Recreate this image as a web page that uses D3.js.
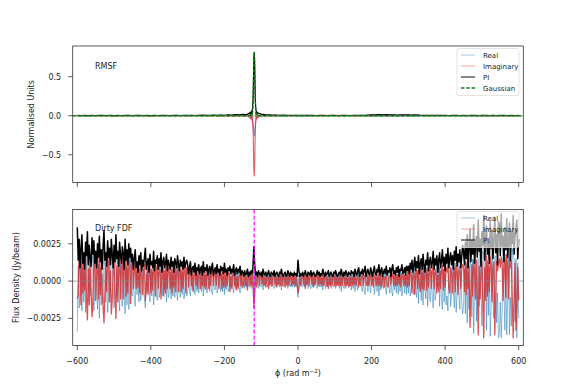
<!DOCTYPE html>
<html><head><meta charset="utf-8">
<script src="https://cdn.jsdelivr.net/npm/d3@7"></script>
<style>body{margin:0;background:#fff}svg{display:block}text{font-family:"DejaVu Sans",sans-serif}</style>
</head><body>
<script>
// ---------- DATA ----------
// RMSF (top panel), phi grid: step 10 away from the peak, step 1 around the peak
const rmsfPhi = d3.range(-600, -130, 10).concat(d3.range(-130, -109, 1)).concat(d3.range(-100, 601, 10));
const rmsfPI = [
 0.004,0.003,0.005,0.002,0.004,0.003,0.005,0.004,0.003,0.005,
 0.002,0.004,0.003,0.005,0.004,0.003,0.004,0.005,0.003,0.004,
 0.002,0.005,0.003,0.004,0.005,0.003,0.004,0.006,0.003,0.005,
 0.004,0.006,0.003,0.005,0.007,0.004,0.006,0.008,0.005,0.009,
 0.006,0.011,0.008,0.014,0.010,0.018,0.013,
 0.040,0.022,0.050,0.030,0.060,0.045,0.085,0.130,0.240,0.470,0.730,0.812,0.700,0.430,0.210,0.110,0.065,0.040,0.050,0.028,0.038,
 0.020,0.014,0.011,0.008,0.009,0.006,0.007,0.005,0.006,0.004,
 0.005,0.004,0.006,0.004,0.005,0.003,0.005,0.004,0.003,0.005,
 0.004,0.003,0.005,0.004,0.003,0.005,0.004,0.006,0.005,0.008,
 0.012,0.010,0.014,0.011,0.013,0.010,0.012,0.009,0.011,0.010,
 0.012,0.008,0.010,0.007,0.006,0.005,0.006,0.004,0.005,0.004,
 0.005,0.003,0.004,0.005,0.003,0.004,0.003,0.005,0.004,0.003,
 0.004,0.005,0.003,0.004,0.003,0.005,0.004,0.003,0.004,0.003,
 0.004];
const rmsfReal = [
 -0.003,0.002,-0.004,0.001,-0.003,0.002,-0.004,0.003,-0.002,0.004,
 -0.001,0.003,-0.002,0.004,-0.003,0.002,-0.003,0.004,-0.002,0.003,
 -0.001,0.004,-0.002,0.003,-0.004,0.002,-0.003,0.005,-0.002,0.004,
 -0.003,0.005,-0.002,0.004,-0.006,0.003,-0.005,0.007,-0.004,0.008,
 -0.005,0.009,-0.007,0.012,-0.008,0.015,-0.011,
 0.025,-0.016,0.030,-0.022,0.035,-0.034,0.048,-0.070,-0.095,-0.160,-0.240,-0.260,-0.250,-0.150,-0.090,-0.060,0.040,-0.027,0.030,-0.019,0.023,
 -0.015,0.010,-0.008,0.006,-0.007,0.004,-0.005,0.004,-0.004,0.003,
 -0.004,0.003,-0.005,0.003,-0.004,0.002,-0.004,0.003,-0.002,0.004,
 -0.003,0.002,-0.004,0.003,-0.002,0.004,-0.003,0.005,-0.004,0.006,
 -0.009,0.008,-0.011,0.008,-0.010,0.007,-0.009,0.007,-0.008,0.008,
 -0.009,0.006,-0.008,0.005,-0.004,0.004,-0.005,0.003,-0.004,0.003,
 -0.004,0.002,-0.003,0.004,-0.002,0.003,-0.002,0.004,-0.003,0.002,
 -0.003,0.004,-0.002,0.003,-0.002,0.004,-0.003,0.002,-0.003,0.002,
 -0.003];
const rmsfImag = [
 0.002,-0.002,0.003,-0.001,0.002,-0.002,0.003,-0.002,0.002,-0.003,
 0.001,-0.002,0.002,-0.003,0.002,-0.002,0.002,-0.003,0.002,-0.002,
 0.001,-0.003,0.002,-0.002,0.003,-0.002,0.002,-0.003,0.002,-0.003,
 0.002,-0.003,0.002,-0.003,0.004,-0.002,0.003,-0.004,0.003,-0.005,
 0.003,-0.007,0.004,-0.008,0.006,-0.010,0.007,
 -0.030,0.015,-0.040,0.020,-0.050,0.030,-0.070,-0.110,-0.220,-0.440,-0.690,-0.770,-0.650,-0.400,-0.190,-0.090,-0.050,0.030,-0.040,0.020,-0.030,
 0.012,-0.009,0.007,-0.005,0.006,-0.004,0.004,-0.003,0.004,-0.002,
 0.003,-0.002,0.004,-0.003,0.003,-0.002,0.003,-0.002,0.002,-0.003,
 0.002,-0.002,0.003,-0.002,0.002,-0.003,0.002,-0.004,0.003,-0.005,
 0.008,-0.006,0.009,-0.007,0.008,-0.006,0.008,-0.006,0.007,-0.006,
 0.008,-0.005,0.006,-0.004,0.004,-0.003,0.004,-0.003,0.003,-0.002,
 0.003,-0.002,0.003,-0.003,0.002,-0.003,0.002,-0.003,0.002,-0.002,
 0.002,-0.003,0.002,-0.002,0.002,-0.003,0.002,-0.002,0.002,-0.002,
 0.002];
// Gaussian fit to the RMSF main lobe
const gaussPhi = [-612, -126, -125, -124, -123, -122, -121, -120, -119, -118, -117, -116, -115, -114, -113, -112, 612];
const gaussVal = [0, 0, 0.002, 0.012, 0.06, 0.2, 0.45, 0.7, 0.812, 0.7, 0.45, 0.2, 0.06, 0.012, 0.002, 0, 0];

// Dirty FDF (bottom panel), phi step 2.5, values in units of 1e-4 Jy/beam
const fdfPhi = d3.range(-600, 600.001, 2.5);
const FDF_UNIT = 1e-4;
const fdfPI = [
 36,14,28,9,22,31,12,19,8,26,17,33,11,24,15,10,29,18,27,12,20,9,25,16,30,13,21,8,23,34,
 14,19,10,27,16,22,11,28,18,9,24,13,31,15,20,10,26,17,12,23,19,8,28,14,21,11,25,16,22,13,
 18,8,15,21,9,13,6,17,11,19,7,14,10,16,22,8,12,15,6,18,11,13,9,20,7,14,12,17,8,15,
 10,19,6,13,16,9,12,18,7,14,11,8,16,10,13,6,15,12,9,17,11,7,14,10,13,8,16,9,12,14,
 11,5,9,13,4,8,10,6,12,4,9,7,11,5,8,10,4,13,6,9,7,11,4,8,10,5,9,12,4,7,
 9,5,11,6,8,4,10,7,9,5,12,6,8,4,9,7,10,5,8,6,11,4,7,9,5,8,6,10,4,7,
 6,3,7,4,5,8,3,6,4,7,5,9,23,10,4,6,3,7,5,4,6,3,8,5,4,6,3,5,7,4,
 3,6,5,4,7,3,5,6,4,3,6,5,8,4,3,5,6,3,4,7,5,3,6,4,5,3,6,4,5,3,
 14,7,3,5,4,6,3,5,7,4,3,6,5,4,7,3,5,6,4,3,5,7,4,6,3,5,4,8,5,3,
 6,4,5,7,3,5,6,4,3,6,5,7,4,3,5,6,4,8,5,3,6,4,7,5,3,6,5,4,7,5,
 6,3,8,5,4,7,9,3,6,5,8,4,7,10,3,6,8,5,4,9,6,3,7,10,5,4,8,6,11,4,
 7,9,3,6,8,5,10,4,7,6,9,3,8,11,5,7,4,9,6,10,3,8,7,11,5,6,9,4,10,7,
 10,5,12,8,14,6,11,16,7,13,9,17,5,12,15,8,18,10,6,14,11,19,7,13,16,9,12,20,8,15,
 11,17,6,14,19,9,13,21,10,16,7,18,12,22,9,15,19,11,17,8,20,14,23,10,18,13,21,9,16,24,
 20,11,26,15,31,9,22,35,13,27,18,38,12,24,30,16,41,20,28,10,33,24,44,14,29,37,18,26,12,40,
 22,34,15,28,43,19,31,11,40,38,17,45,23,30,13,36,21,42,16,27,39,14,33,25,44,18,30,36,41,15,28];
const fdfReal = [
 -34,10,-18,-6,15,-20,8,-14,5,-21,12,19,-7,18,-10,6,17,12,-20,-8,15,-6,-19,11,-25,9,-16,5,-15,19,
 10,-14,7,-21,-11,17,-8,18,13,-6,-18,9,18,-10,14,-7,-20,12,-9,-17,14,-5,-22,10,-16,8,-19,-12,17,-9,
 -10,6,-12,-17,7,-9,4,-14,8,-13,-5,11,-7,-12,-18,5,-8,12,-4,-14,8,-10,6,-16,-5,10,-9,-13,6,-11,
 -7,15,-4,-10,12,-6,9,-14,5,-11,-8,6,-12,7,-10,4,-11,9,-6,-13,8,-5,-11,7,-9,6,-12,-6,9,-10,
 -8,3,-6,-10,3,-6,7,-4,-9,3,-7,5,-8,-3,6,-7,3,-10,4,-6,5,-8,-3,6,-7,4,-7,-9,3,-5,
 -6,4,-8,-4,6,-3,-7,5,-7,3,-9,4,-6,3,-7,-5,7,-4,6,-4,-8,3,-5,7,-4,6,-4,-8,3,-5,
 -4,2,-5,3,-4,5,-2,-4,3,-5,4,-6,-14,6,-3,4,-2,-5,4,-3,-4,2,-6,4,-3,4,-2,-4,5,-3,
 2,-4,4,-3,-5,2,-4,4,-3,2,-4,4,-6,3,-2,-4,4,-2,3,-5,4,-2,-4,3,-4,2,-4,3,-4,2,
 -11,4,-2,4,-3,-4,2,-4,5,-3,2,-5,4,-3,-5,2,-4,5,-3,2,-4,-5,3,-4,2,-4,3,-6,4,-2,
 -5,3,-4,5,-2,4,-5,3,-2,-4,4,-5,3,-2,4,-5,3,-7,4,-2,-5,3,-5,4,-2,5,-4,3,-6,4,
 -5,2,-7,4,-3,-6,8,-2,5,-4,-7,3,-6,-9,2,5,-7,4,-3,-8,5,-2,6,-9,-4,3,-7,5,-10,3,
 -6,8,-2,-5,7,-4,-9,3,6,-5,-8,2,-7,-10,4,-6,3,-8,5,-9,2,-7,6,-10,-4,5,-8,3,-9,6,
 -8,4,-10,-6,11,-4,-9,13,-5,-11,7,-15,3,10,-13,6,-16,8,-4,-12,9,-17,5,-11,-14,7,-10,-18,6,-13,
 -9,15,-4,12,-17,7,-11,-19,8,-14,5,-16,-10,-20,7,13,-17,-9,15,-6,-18,12,-21,-8,16,-11,-19,7,-14,-22,
 -17,8,-22,12,-28,6,-19,15,10,-24,15,-35,-9,21,-27,13,15,-17,25,-8,-30,20,18,-11,26,-33,14,-23,9,-37,
 -19,31,-12,-25,17,16,-28,-8,-38,-35,-14,-38,-20,27,-10,-33,18,-36,-13,24,-36,-11,-30,22,17,15,-27,15,-38,12,-25];
const fdfImag = [
 -12,-9,21,7,-16,23,-8,13,-6,16,-12,-26,8,-16,11,-7,-24,-13,18,8,-13,6,16,-12,16,-9,13,-6,-17,-28,
 -9,12,-7,17,12,-14,7,-22,-12,6,16,-9,-25,10,-14,7,17,-12,8,16,-12,6,17,-10,14,-8,17,11,-15,10,
 15,-5,8,12,-5,9,-4,10,-8,14,5,-9,7,11,-13,-5,9,-9,4,11,-8,8,-6,12,5,-10,7,11,-5,10,
 7,-12,4,8,-10,7,-8,11,-5,9,7,-5,10,-8,8,-4,10,-7,6,10,-7,5,8,-7,9,-5,11,6,-8,9,
 7,-4,6,8,-3,5,-7,4,6,-3,6,-5,7,4,-5,7,-3,8,-4,6,-5,7,3,-5,7,-3,6,8,-3,5,
 6,-3,7,4,-5,3,7,-5,6,-4,8,-4,5,-3,6,5,-7,3,-5,4,7,-3,5,-6,3,-5,4,6,-3,5,
 -4,-2,5,-3,3,-6,2,4,-3,5,-3,7,-18,-8,3,-4,2,5,-3,3,4,-2,5,-3,3,-4,2,3,-5,3,
 -2,4,-3,3,5,-2,3,-4,3,-2,4,-3,6,-3,2,3,-4,2,-3,5,-3,2,4,-3,3,-2,4,-3,3,-2,
 -8,-5,2,-3,3,4,-2,3,-5,3,-2,4,-3,3,5,-2,3,-4,3,-2,3,5,-3,4,-2,3,-3,4,-3,2,
 4,-3,3,-5,2,-3,4,-3,2,4,-3,5,-3,2,-3,4,-3,5,-3,2,4,-3,5,-3,2,-4,3,-3,4,-3,
 3,-2,4,-3,2,4,-4,2,-3,3,4,-3,3,4,-2,-3,4,-3,3,4,-3,2,-4,4,3,-3,4,-3,5,-3,
 4,-4,2,3,-4,3,4,-3,-4,3,4,-2,4,5,-3,4,-3,4,-3,4,-2,4,-4,5,3,-3,4,-3,4,-4,
 6,-3,7,5,-8,4,6,-9,5,7,-5,8,-3,-7,8,-5,9,-6,4,8,-6,9,-4,7,9,-5,7,10,-5,8,
 6,-8,4,-7,9,-5,7,10,-6,8,-4,9,6,11,-5,-8,9,6,-8,5,9,-7,10,6,-9,7,10,-5,8,11,
 10,-7,13,-9,13,-5,10,-31,-8,11,-10,14,7,-12,14,-8,-36,10,-12,5,13,-14,-38,9,-13,17,-10,12,-7,16,
 11,-14,9,13,-36,-10,13,7,12,15,9,16,12,-13,8,15,-11,18,9,-12,16,9,14,-13,-38,-10,12,-33,-17,9,-13];
const peakPhi = -119;

const xTicks = [-600, -400, -200, 0, 200, 400, 600];
const topYTicks = [-0.5, 0, 0.5];
const botYTicks = [-0.0025, 0, 0.0025];

// ---------- LAYOUT ----------
const W = 581, H = 388;
const L = 72.7, R = 523.3;
const topP = {t: 46, b: 182.5};
const botP = {t: 209.5, b: 345.5};
const C = {real: "#1f77b4", imag: "#d62728", pi: "#000", gauss: "#008000", zero: "#888", spine: "#333", magenta: "#ff00ff"};

const svg = d3.select("body").append("svg").attr("width", W).attr("height", H);
const x = d3.scaleLinear().domain([-612.5, 612.5]).range([L, R]);
const yTop = d3.scaleLinear().domain([-0.855, 0.893]).range([topP.b, topP.t]);
const yBot = d3.scaleLinear().domain([-0.00432, 0.0048]).range([botP.b, botP.t]);

function clip(id, p) {
  svg.append("clipPath").attr("id", id).append("rect")
    .attr("x", L).attr("y", p.t).attr("width", R - L).attr("height", p.b - p.t);
}
clip("cTop", topP); clip("cBot", botP);

function series(g, phi, vals, y, color, opts) {
  const data = phi.map((p, i) => [p, vals[i]]).filter(d => d[1] != null);
  g.append("path").datum(data)
    .attr("fill", "none").attr("stroke", color)
    .attr("stroke-width", opts.w || 0.9)
    .attr("stroke-opacity", opts.op == null ? 1 : opts.op)
    .attr("stroke-dasharray", opts.dash || null)
    .attr("stroke-linejoin", "round")
    .attr("d", d3.line().x(d => x(d[0])).y(d => y(d[1])));
}

function legend(items, x0, y0, w, h) {
  const g = svg.append("g");
  g.append("rect").attr("x", x0).attr("y", y0).attr("width", w).attr("height", h)
    .attr("rx", 2).attr("fill", "#fff").attr("fill-opacity", 0.65)
    .attr("stroke", "#ddd").attr("stroke-width", 0.8);
  items.forEach((it, i) => {
    const yy = y0 + 6.5 + i * 11;
    g.append("line").attr("x1", x0 + 4).attr("x2", x0 + 18).attr("y1", yy).attr("y2", yy)
      .attr("stroke", it.c).attr("stroke-width", it.w || 1.2).attr("stroke-opacity", it.op == null ? 1 : it.op)
      .attr("stroke-dasharray", it.dash || null);
    g.append("text").attr("x", x0 + 26).attr("y", yy + 2.5).attr("font-size", 7).attr("fill", "#222").text(it.t);
  });
}

function frame(p, y, ticks, fmt, showX, ylabel, ylx) {
  const g = svg.append("g");
  ticks.forEach(v => {
    g.append("line").attr("x1", L - 4.5).attr("x2", L).attr("y1", y(v)).attr("y2", y(v)).attr("stroke", C.spine).attr("stroke-width", 0.8);
    g.append("text").attr("x", L - 11.5).attr("y", y(v) + 2.9).attr("text-anchor", "end").attr("font-size", 8).attr("fill", "#222").text(fmt(v));
  });
  xTicks.forEach(v => {
    g.append("line").attr("x1", x(v)).attr("x2", x(v)).attr("y1", p.b).attr("y2", p.b + 4.5).attr("stroke", C.spine).attr("stroke-width", 0.8);
    if (showX) g.append("text").attr("x", x(v)).attr("y", p.b + 18.5).attr("text-anchor", "middle").attr("font-size", 8).attr("fill", "#222").text(d3.format("d")(v));
  });
  g.append("rect").attr("x", L).attr("y", p.t).attr("width", R - L).attr("height", p.b - p.t)
    .attr("fill", "none").attr("stroke", C.spine).attr("stroke-width", 0.8);
  g.append("text").attr("transform", `translate(${ylx},${(p.t + p.b) / 2}) rotate(-90)`)
    .attr("text-anchor", "middle").attr("font-size", 8).attr("fill", "#222").text(ylabel);
}

// ---------- TOP PANEL ----------
legend([
  {t: "Real", c: C.real, op: 0.35},
  {t: "Imaginary", c: C.imag, op: 0.35},
  {t: "PI", c: C.pi, op: 0.8},
  {t: "Gaussian", c: C.gauss, dash: "3.5,1.8", w: 1.4}
], 457, 48.5, 62, 47);
const gt = svg.append("g").attr("clip-path", "url(#cTop)");
series(gt, rmsfPhi, rmsfReal, yTop, C.real, {op: 0.6, w: 1.1});
series(gt, rmsfPhi, rmsfImag, yTop, C.imag, {op: 0.75, w: 1.1});
series(gt, rmsfPhi, rmsfPI, yTop, C.pi, {w: 1.2});
gt.append("line").attr("x1", L).attr("x2", R).attr("y1", yTop(0)).attr("y2", yTop(0)).attr("stroke", C.zero).attr("stroke-width", 1).attr("stroke-opacity", 0.7);
series(gt, gaussPhi, gaussVal, yTop, C.gauss, {w: 1.3, dash: "3.5,1.8"});
frame(topP, yTop, topYTicks, d3.format(".1f"), false, "Normalised Units", 34);
svg.append("text").attr("x", 95).attr("y", 69).attr("font-size", 8).attr("fill", "#222").text("RMSF");

// ---------- BOTTOM PANEL ----------
svg.append("text").attr("x", 95).attr("y", 231).attr("font-size", 8).attr("fill", "#222").text("Dirty FDF");
const gb = svg.append("g").attr("clip-path", "url(#cBot)");
const sc = v => v == null ? null : v * FDF_UNIT;
series(gb, fdfPhi, fdfReal.map(sc), yBot, C.real, {op: 0.5, w: 1.0});
series(gb, fdfPhi, fdfImag.map(sc), yBot, C.imag, {op: 0.8, w: 1.3});
series(gb, fdfPhi, fdfPI.map(sc), yBot, C.pi, {w: 1.5});
gb.append("line").attr("x1", L).attr("x2", R).attr("y1", yBot(0)).attr("y2", yBot(0)).attr("stroke", C.zero).attr("stroke-width", 1).attr("stroke-opacity", 0.7);
gb.append("line").attr("x1", x(peakPhi)).attr("x2", x(peakPhi)).attr("y1", botP.t).attr("y2", botP.b)
  .attr("stroke", C.magenta).attr("stroke-width", 1.2).attr("stroke-dasharray", "4,2");
legend([
  {t: "Real", c: C.real, op: 0.35},
  {t: "Imaginary", c: C.imag, op: 0.35},
  {t: "PI", c: C.pi, op: 0.8}
], 457, 211.5, 62, 36);
frame(botP, yBot, botYTicks, d3.format(".4f"), true, "Flux Density (Jy/beam)", 19);

// x label
const xl = svg.append("text").attr("x", x(0)).attr("y", 375.5).attr("text-anchor", "middle").attr("font-size", 8).attr("fill", "#222");
xl.append("tspan").text("ϕ (rad m");
xl.append("tspan").attr("dy", -3).attr("font-size", 5.6).text("−2");
xl.append("tspan").attr("dy", 3).text(")");
</script>
</body></html>
